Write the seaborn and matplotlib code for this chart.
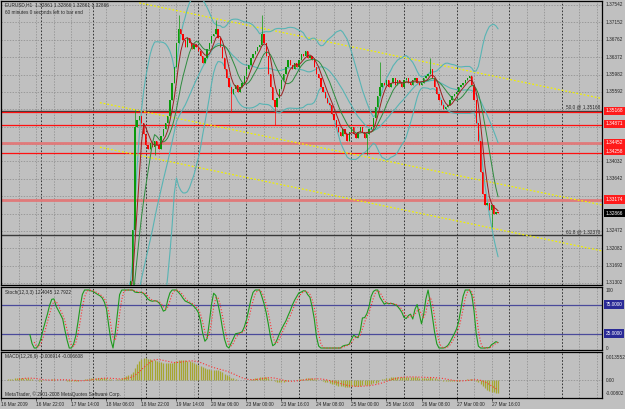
import numpy as np
import pandas as pd
import matplotlib
matplotlib.use("Agg")
import matplotlib.pyplot as plt
import matplotlib.transforms as mtransforms
import seaborn as sns

# EURUSD H1 closes, 16 Mar 06:00 -> 27 Mar 21:00 (first 60 bars sit below the visible range)
closes_early = [1.2960, 1.2968, 1.2975, 1.2985, 1.2990, 1.3002, 1.3010, 1.3018, 1.3025,
                1.3015, 1.3000, 1.2990, 1.2975, 1.2962, 1.2955, 1.2948, 1.2942,
                1.2955, 1.2968, 1.2980, 1.2990, 1.2995, 1.2998,
                1.2990, 1.2982, 1.2975, 1.2978, 1.2970, 1.2962, 1.2955, 1.2950, 1.2945, 1.2940,
                1.2952, 1.2965, 1.2978, 1.2990, 1.3000, 1.3008, 1.3015, 1.3022,
                1.3018, 1.3020, 1.3015, 1.3012, 1.3016, 1.3010, 1.3005, 1.3008,
                1.2985, 1.2960, 1.2945,
                1.3000, 1.3030, 1.3060, 1.3085, 1.3100, 1.3110, 1.3120, 1.3135]
closes_late = [1.3250, 1.3480,
               1.3495, 1.3505, 1.3490,
               1.3465, 1.3440, 1.3430,
               1.3445, 1.3435, 1.3448, 1.3440, 1.3432,
               1.3460, 1.3475, 1.3490, 1.3505,
               1.3540, 1.3580, 1.3615,
               1.3670, 1.3700, 1.3690,
               1.3675, 1.3660, 1.3680, 1.3670, 1.3655, 1.3665, 1.3660, 1.3650,
               1.3640, 1.3625, 1.3635,
               1.3655, 1.3670, 1.3685, 1.3690,
               1.3700,
               1.3680, 1.3660, 1.3635, 1.3610, 1.3590, 1.3570, 1.3555,
               1.3565, 1.3575, 1.3560, 1.3570, 1.3580,
               1.3595, 1.3610, 1.3620, 1.3635, 1.3645, 1.3650, 1.3660, 1.3665,
               1.3690, 1.3670,
               1.3640, 1.3600, 1.3570, 1.3540, 1.3525,
               1.3545, 1.3565, 1.3585, 1.3600, 1.3615,
               1.3630, 1.3620, 1.3610, 1.3625, 1.3615, 1.3630,
               1.3645, 1.3640, 1.3650, 1.3635, 1.3640, 1.3630,
               1.3615, 1.3600, 1.3590, 1.3570, 1.3560, 1.3545, 1.3535, 1.3530, 1.3510, 1.3495, 1.3480, 1.3470,
               1.3460, 1.3475, 1.3465, 1.3450, 1.3470, 1.3480, 1.3465, 1.3455, 1.3470, 1.3480, 1.3470, 1.3455,
               1.3465, 1.3475, 1.3480,
               1.3500, 1.3525, 1.3550, 1.3570, 1.3580,
               1.3575, 1.3585, 1.3570, 1.3580, 1.3590, 1.3575, 1.3585, 1.3580, 1.3570, 1.3585, 1.3590, 1.3580,
               1.3575, 1.3585, 1.3590, 1.3580, 1.3575, 1.3580, 1.3590, 1.3595, 1.3600, 1.3610, 1.3590,
               1.3570, 1.3555, 1.3540, 1.3530, 1.3520, 1.3525, 1.3530, 1.3540,
               1.3550, 1.3555, 1.3560, 1.3570, 1.3575, 1.3580, 1.3585, 1.3590, 1.3595,
               1.3575, 1.3540, 1.3490, 1.3450,
               1.3380, 1.3330, 1.3305,
               1.3310, 1.3295, 1.3305, 1.3285, 1.3290, 1.32866]
closes = closes_early + closes_late

spike_highs = {61: 1.3518, 81: 1.3732, 98: 1.3721, 119: 1.3732, 173: 1.3626, 196: 1.3635}
spike_lows = {60: 1.3120, 70: 1.3418, 105: 1.3514, 125: 1.3485, 167: 1.3418, 224: 1.3256}

price_ticks = [1.37542, 1.37152, 1.36762, 1.36372, 1.35982, 1.35592, 1.35202, 1.34812,
               1.34422, 1.34032, 1.33642, 1.33252, 1.32862, 1.32472, 1.32082, 1.31692, 1.31302]
red_levels = [1.35168, 1.34871, 1.34258]
pink_levels = [1.34452, 1.33174]
fib_levels = [1.35168, 1.32370]
fib_names = ["50.0 @ 1.35168", "61.8 @ 1.32370"]
last_price = 1.32866

# yellow trend lines: start bar, two anchor (bar, price) points
trend_start = [63, 45, 45]
trend_a = [(63, 1.3759), (55, 1.3525), (45, 1.3435)]
trend_b = [(260, 1.3559), (259, 1.3321), (259, 1.3218)]

time_ticks = [0, 16, 32, 48, 64, 80, 96, 112, 128, 144, 160, 176, 192, 208, 224]
time_labels = ["16 Mar 2009", "16 Mar 22:00", "17 Mar 14:00", "18 Mar 06:00", "18 Mar 22:00",
               "19 Mar 14:00", "20 Mar 06:00", "23 Mar 00:00", "23 Mar 16:00", "24 Mar 08:00",
               "25 Mar 00:00", "25 Mar 16:00", "26 Mar 08:00", "27 Mar 00:00", "27 Mar 16:00"]
day_starts = [18, 42, 66, 90, 112, 136, 160, 184, 208, 232, 256]

BG = "#c0c0c0"
sns.set_style("ticks", {"axes.facecolor": BG, "figure.facecolor": BG, "axes.edgecolor": "black"})
plt.rcParams["font.family"] = ["Liberation Sans", "DejaVu Sans"]

df = pd.DataFrame({"bar": np.arange(len(closes)), "close": closes})
df["open"] = df["close"].shift(1).fillna(df["close"].iloc[0])
df["high"] = df[["open", "close"]].max(axis=1)
df["low"] = df[["open", "close"]].min(axis=1)
for b, p in spike_highs.items():
    df.loc[b, "high"] = p
for b, p in spike_lows.items():
    df.loc[b, "low"] = p

c = df["close"]
mid = c.rolling(20).mean()
sd = c.rolling(20).std(ddof=0)
df["bb_up"], df["bb_mid"], df["bb_dn"] = mid + 2 * sd, mid, mid - 2 * sd
df["ma_fast"] = c.rolling(5).mean()
df["ma_slow"] = c.rolling(10).mean()

hh = df["high"].rolling(12).max()
ll = df["low"].rolling(12).min()
df["stoch"] = 100 * (c - ll).rolling(3).sum() / (hh - ll).rolling(3).sum()
df["stoch_sig"] = df["stoch"].rolling(3).mean()

df["macd"] = c.ewm(span=12, adjust=False).mean() - c.ewm(span=26, adjust=False).mean()
df["macd_sig"] = df["macd"].rolling(9).mean()

W, H = 625, 409
fig = plt.figure(figsize=(W / 100, H / 100), dpi=100)


def panel(top, bottom):
    return fig.add_axes([1 / W, 1 - bottom / H, 601 / W, (bottom - top) / H])


ax = panel(1, 285)
ax_st = panel(287, 350)
ax_m = panel(352, 398)

xlim = (-0.2, 274.5)
k = 0.0624 / 278
for a in (ax, ax_st, ax_m):
    a.set_xlim(*xlim)
    for s in a.spines.values():
        s.set_linewidth(0.9)
    for d in day_starts:
        a.axvline(d, color="#202020", lw=0.6, ls=(0, (2, 2)), zorder=0)
    for g in range(8, 275, 8):
        if g not in day_starts:
            a.axvline(g, color="#8a8a8a", lw=0.5, ls=(0, (2, 2)), zorder=0)
    a.set_yticks([])
    a.set_xticks([])

ax.set_ylim(1.31302 - 2 * k, 1.37542 + 4 * k)
for p in price_ticks:
    ax.axhline(p, color="#8a8a8a", lw=0.5, ls=(0, (2, 2)), zorder=0)

# horizontal levels
for p in fib_levels:
    ax.axhline(p, color="#3a3a3a", lw=1.0, zorder=1)
red_off = mtransforms.offset_copy(ax.transData, fig=fig, y=-1.5, units="dots")
for p in red_levels:
    ax.plot(xlim, [p, p], color="#ff1010", lw=0.9, zorder=1, transform=red_off)
for p in pink_levels:
    ax.axhline(p, color="#e07a7a", lw=2.0, zorder=1)

# trend lines
for s, (x1, y1), (x2, y2) in zip(trend_start, trend_a, trend_b):
    slope = (y2 - y1) / (x2 - x1)
    xs = np.array([s, xlim[1]])
    ax.plot(xs, y1 + slope * (xs - x1), color="#f0f000", lw=0.9, ls=(0, (1.5, 1.5)), zorder=2)

# bollinger bands and moving averages
for col in ("bb_up", "bb_mid", "bb_dn"):
    sns.lineplot(x=df["bar"], y=df[col], ax=ax, color="#58b4b4", lw=0.8, zorder=3)
sns.lineplot(x=df["bar"], y=df["ma_slow"], ax=ax, color="#2e8b3e", lw=0.7, zorder=5)
sns.lineplot(x=df["bar"], y=df["ma_fast"], ax=ax, color="#9a2020", lw=0.7, zorder=5)

# candles
up = df["close"] >= df["open"]
cols = np.where(up, "#0a9a0a", "#ff0000")
ax.vlines(df["bar"], df["low"], df["high"], colors=cols, lw=0.5, zorder=4)
body_h = (df["close"] - df["open"]).abs().clip(lower=0.00005)
ax.bar(df["bar"], body_h, bottom=df[["open", "close"]].min(axis=1), width=0.6, color=cols, lw=0, zorder=4)

ax.set_ylabel("")
ax.set_xlabel("")
fs = 3.4
ax.text(0.006, 0.995, "EURUSD,H1  1.32861 1.32866 1.32861 1.32866", transform=ax.transAxes,
        fontsize=fs, va="top", ha="left")
ax.text(0.006, 0.968, "60 minutes 0 seconds left to bar end", transform=ax.transAxes,
        fontsize=fs, va="top", ha="left")
for p, name in zip(fib_levels, fib_names):
    ax.text(0.997, p + 0.0003, name, transform=mtransforms.blended_transform_factory(ax.transAxes, ax.transData),
            fontsize=fs, ha="right", va="bottom")

ylab = mtransforms.blended_transform_factory(ax.transAxes, ax.transData)
boxed = red_levels + pink_levels + [last_price]
for p in price_ticks:
    # labels hidden behind a coloured level box are not shown
    if min(abs(p - b) for b in boxed) < 0.0013:
        continue
    ax.text(1.006, p, f"{p:.5f}", transform=ylab, fontsize=fs, va="center", ha="left", clip_on=False)
for p in red_levels + pink_levels:
    ax.text(1.006, p, f"{p:.5f}", transform=ylab, fontsize=fs, va="center", ha="left", color="white",
            clip_on=False, zorder=10, bbox=dict(boxstyle="square,pad=0.35", fc="#ff1a1a", ec="none"))
ax.text(1.006, last_price, f"{last_price:.5f}", transform=ylab, fontsize=fs, va="center", ha="left",
        color="white", clip_on=False, zorder=10, bbox=dict(boxstyle="square,pad=0.35", fc="black", ec="none"))

# stochastic
ax_st.set_ylim(-3.4, 105.2)
for lv in (75, 25):
    ax_st.axhline(lv, color="#4a4a9a", lw=0.9, zorder=1)
sns.lineplot(x=df["bar"], y=df["stoch"], ax=ax_st, color="#1e9a1e", lw=0.8, zorder=3)
sns.lineplot(x=df["bar"], y=df["stoch_sig"], ax=ax_st, color="#ff3030", lw=0.8, ls=":", zorder=3)
ax_st.set_ylabel("")
ax_st.set_xlabel("")
ax_st.text(0.006, 0.96, "Stoch(12,3,3) 12.4045 12.7922", transform=ax_st.transAxes, fontsize=fs, va="top")
stl = mtransforms.blended_transform_factory(ax_st.transAxes, ax_st.transData)
for v, t in ((100, "100"), (0, "0")):
    ax_st.text(1.006, v, t, transform=stl, fontsize=fs, va="center", clip_on=False)
for v in (75, 25):
    ax_st.text(1.006, v, f"{v:.4f}", transform=stl, fontsize=fs, va="center", color="white", clip_on=False,
               bbox=dict(boxstyle="square,pad=0.35", fc="#2a2a96", ec="none"))

# macd
ax_m.set_ylim(-0.0106, 0.0165)
ax_m.axhline(0, color="#8a8a8a", lw=0.5, ls=(0, (2, 2)), zorder=0)
ax_m.vlines(df["bar"], 0, df["macd"], colors="#a6a630", lw=0.9, zorder=2)
sns.lineplot(x=df["bar"], y=df["macd_sig"], ax=ax_m, color="#ff3030", lw=0.8, ls=":", zorder=3)
ax_m.set_ylabel("")
ax_m.set_xlabel("")
ax_m.text(0.006, 0.95, "MACD(12,26,9) -0.006914 -0.006608", transform=ax_m.transAxes, fontsize=fs, va="top")
ax_m.text(0.006, 0.03, "MetaTrader, \u00a9 2001-2008 MetaQuotes Software Corp.", transform=ax_m.transAxes,
          fontsize=fs, va="bottom")
ml = mtransforms.blended_transform_factory(ax_m.transAxes, ax_m.transData)
for v, t in ((0.013552, "0.013552"), (0.0, "0.00"), (-0.00802, "-0.00802")):
    ax_m.text(1.006, v, t, transform=ml, fontsize=fs, va="center", clip_on=False)

ax_m.set_xticks(time_ticks)
ax_m.set_xticklabels(time_labels, fontsize=fs, ha="left")
ax_m.tick_params(axis="x", length=2, width=0.5, pad=1)
ax_m.set_xlim(*xlim)

fig.savefig("out.png", dpi=100, facecolor=BG)
